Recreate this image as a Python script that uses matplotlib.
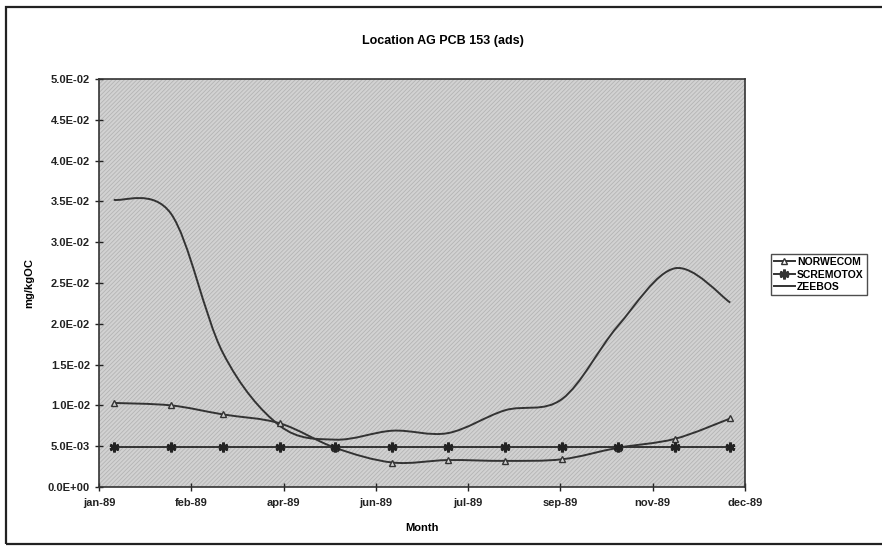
import datetime as dt
import matplotlib
matplotlib.use('Agg')
import matplotlib.pyplot as plt
import matplotlib.dates as mdates
from matplotlib.path import Path
from matplotlib.patches import PathPatch, Rectangle
from matplotlib.lines import Line2D
from matplotlib.ticker import FuncFormatter, MultipleLocator

plt.rcParams['font.family'] = ['Liberation Sans', 'DejaVu Sans']
plt.rcParams['font.weight'] = 'bold'
plt.rcParams['hatch.linewidth'] = 0.6

# sample dates (mid month)
months = [dt.date(1989, m, 15) for m in range(1, 13)]
norwecom = [0.0103, 0.0100, 0.0089, 0.0078, 0.0048, 0.0030,
            0.0033, 0.0032, 0.0034, 0.0048, 0.0059, 0.0084]
scremotox = [0.0049] * 12
zeebos = [0.0352, 0.0335, 0.0165, 0.0075, 0.0058, 0.0069,
          0.0066, 0.0094, 0.0108, 0.0197, 0.0268, 0.0226]

x_start = dt.date(1989, 1, 7)
x_end = dt.date(1989, 12, 23)
tick_step = 50  # days between x ticks


def smooth_path(xs, ys):
    # excel style smoothed line as cubic bezier segments
    n = len(xs)
    verts = [(xs[0], ys[0])]
    codes = [Path.MOVETO]
    for i in range(n - 1):
        p0 = max(i - 1, 0)
        p3 = min(i + 2, n - 1)
        c1 = (xs[i] + (xs[i + 1] - xs[p0]) / 6.0, ys[i] + (ys[i + 1] - ys[p0]) / 6.0)
        c2 = (xs[i + 1] - (xs[p3] - xs[i]) / 6.0, ys[i + 1] - (ys[p3] - ys[i]) / 6.0)
        verts += [c1, c2, (xs[i + 1], ys[i + 1])]
        codes += [Path.CURVE4] * 3
    return Path(verts, codes)


fig = plt.figure(figsize=(8.82, 5.47), dpi=100)
fig.patches.append(Rectangle((0.007, 0.006), 1.2, 0.981, transform=fig.transFigure,
                             fill=False, edgecolor='#222222', linewidth=1.6))

ax = fig.add_axes([0.1122, 0.1097, 0.7325, 0.7459])
ax.set_facecolor('#d2d2d2')
ax.add_patch(Rectangle((0, 0), 1, 1, transform=ax.transAxes, facecolor='none',
                       edgecolor='#b4b4b4', hatch='////////', linewidth=0, zorder=0))

xd = mdates.date2num(months)
line_kw = dict(fill=False, edgecolor='#333333', linewidth=1.4, zorder=3)
for vals in (norwecom, scremotox, zeebos):
    ax.add_patch(PathPatch(smooth_path(list(xd), vals), **line_kw))

ax.plot(months, norwecom, linestyle='none', marker='^', markersize=5,
        markerfacecolor='#d2d2d2', markeredgecolor='#333333', markeredgewidth=1.0, zorder=4)
ax.plot(months, scremotox, linestyle='none', marker=(6, 2, 0), markersize=7,
        markeredgecolor='#222222', markeredgewidth=2.0, zorder=4)

ax.set_xlim(x_start, x_end)
ax.set_ylim(0, 0.05)
ticks = [x_start + dt.timedelta(days=tick_step * k) for k in range(8)]
ax.set_xticks(ticks)
ax.xaxis.set_major_formatter(FuncFormatter(
    lambda v, p: mdates.num2date(v).strftime('%b-%y').lower()))
ax.yaxis.set_major_locator(MultipleLocator(0.005))
ax.yaxis.set_major_formatter(FuncFormatter(lambda v, p: '%.1E' % v))
ax.tick_params(direction='inout', length=6, width=1, labelsize=8, colors='#222222')
ax.tick_params(axis='x', pad=5)
for s in ax.spines.values():
    s.set_color('#333333')
    s.set_linewidth(1.2)

ax.set_xlabel('Month', fontsize=8, fontweight='bold', labelpad=11)
ax.set_ylabel('mg/kgOC', fontsize=8, fontweight='bold', labelpad=10)
fig.text(0.502, 0.925, 'Location AG PCB 153 (ads)', ha='center', va='center',
         fontsize=9, fontweight='bold')

handles = [
    Line2D([], [], color='#333333', lw=1.4, marker='^', markersize=5,
           markerfacecolor='white', markeredgecolor='#333333'),
    Line2D([], [], color='#333333', lw=1.4, marker=(6, 2, 0), markersize=7,
           markeredgewidth=2.0),
    Line2D([], [], color='#333333', lw=1.4),
]
leg = fig.legend(handles, ['NORWECOM', 'SCREMOTOX', 'ZEEBOS'], loc='upper left',
                 bbox_to_anchor=(0.874, 0.536), frameon=True, fancybox=False,
                 fontsize=7.5, handlelength=2.0, handletextpad=0.2,
                 borderpad=0.3, labelspacing=0.25, borderaxespad=0)
leg.get_frame().set_edgecolor('#222222')
leg.get_frame().set_linewidth(1.0)

fig.savefig('out.png', dpi=100)
